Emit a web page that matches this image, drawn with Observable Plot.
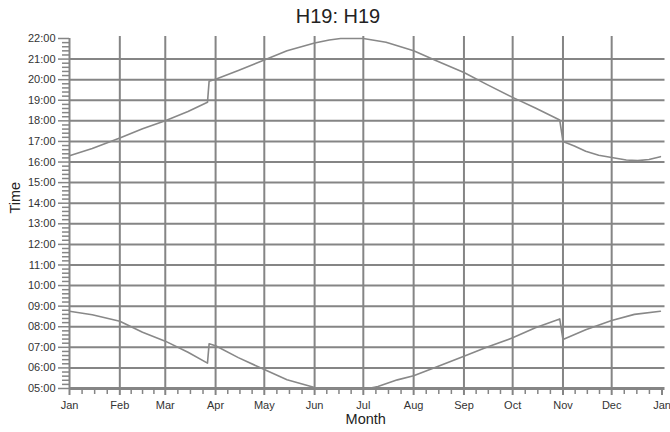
<!DOCTYPE html>
<html><head><meta charset="utf-8">
<script src="https://cdn.jsdelivr.net/npm/d3@7"></script>
<script src="https://cdn.jsdelivr.net/npm/@observablehq/plot@0.6"></script>
<style>
body{margin:0;background:#fff;font-family:"Liberation Sans",Arial,sans-serif}
#title{height:28px;width:676px;text-align:center;font-size:20px;line-height:32px;color:#222}
</style></head>
<body>
<div id="title">H19: H19</div>
<div id="chart"></div>
<script>
// ---- data ----
const monthLabels = ["Jan","Feb","Mar","Apr","May","Jun","Jul","Aug","Sep","Oct","Nov","Dec","Jan"];
const hourLabels = ["05:00","06:00","07:00","08:00","09:00","10:00","11:00","12:00","13:00","14:00","15:00","16:00","17:00","18:00","19:00","20:00","21:00","22:00"];

const sunsetDates = ["2007-01-01","2007-01-15","2007-02-01","2007-02-15","2007-03-01","2007-03-15","2007-03-27","2007-03-28","2007-04-01","2007-04-15","2007-05-01","2007-05-15","2007-06-01","2007-06-10","2007-06-17","2007-07-01","2007-07-15","2007-08-01","2007-08-15","2007-09-01","2007-09-15","2007-10-01","2007-10-15","2007-10-30","2007-11-01","2007-11-08","2007-11-15","2007-11-23","2007-12-01","2007-12-10","2007-12-17","2007-12-24","2007-12-31"];
const sunsetTimes = [16.31,16.66,17.17,17.62,18.01,18.45,18.90,19.92,20.02,20.45,20.95,21.40,21.78,21.93,22.0,22.0,21.82,21.41,20.92,20.35,19.77,19.14,18.62,18.04,17.00,16.78,16.52,16.33,16.22,16.10,16.07,16.12,16.26];

const sunriseDates = ["2007-01-01","2007-01-15","2007-02-01","2007-02-15","2007-03-01","2007-03-15","2007-03-27","2007-03-28","2007-04-01","2007-04-15","2007-05-01","2007-05-15","2007-06-01","2007-06-04","2007-07-04","2007-07-10","2007-07-22","2007-08-01","2007-08-15","2007-09-01","2007-09-15","2007-10-01","2007-10-15","2007-10-30","2007-11-01","2007-11-15","2007-12-01","2007-12-15","2007-12-31"];
const sunriseTimes = [8.75,8.58,8.27,7.73,7.30,6.76,6.23,7.17,7.08,6.50,5.92,5.43,5.05,5.0,5.0,5.10,5.42,5.62,6.05,6.57,7.00,7.46,7.95,8.38,7.38,7.85,8.30,8.60,8.75];

// ---- build tables ----
const sunset = sunsetDates.map((d, i) => ({date: new Date(d), t: sunsetTimes[i]}));
const sunrise = sunriseDates.map((d, i) => ({date: new Date(d), t: sunriseTimes[i]}));

const monthTicks = d3.utcMonths(new Date("2007-01-01"), new Date("2008-01-02"));
const monthLabelOf = new Map(monthTicks.map((d, i) => [+d, monthLabels[i]]));
const minorX = [];
for (let i = 0; i < 12; i++) {
  const a = +monthTicks[i], b = +monthTicks[i + 1];
  for (let k = 1; k < 4; k++) minorX.push(new Date(a + (b - a) * k / 4));
}
const hourTicks = hourLabels.map(s => +s.slice(0, 2));
const minorY = [];
for (let h = 5; h < 22; h++) for (let k = 1; k < 5; k++) minorY.push(h + k / 5);

const grid = "#858585";

const chart = Plot.plot({
  width: 670,
  height: 404,
  marginTop: 10,
  marginBottom: 44,
  marginLeft: 69,
  marginRight: 8.5,
  x: {type: "utc", domain: [new Date("2007-01-01"), new Date("2008-01-01")]},
  y: {domain: [5, 22]},
  style: {fontFamily: '"Liberation Sans", Arial, sans-serif', fontSize: "11px", background: "#fff", overflow: "visible"},
  marks: [
    Plot.ruleY(hourTicks.filter(h => h > 5 && h < 22), {stroke: grid, strokeWidth: 2, insetRight: -3}),
    Plot.ruleX(monthTicks.slice(1, 12), {y1: 22, y2: 5, stroke: grid, strokeWidth: 2, insetTop: -2}),
    Plot.ruleX([monthTicks[0]], {y1: 22, y2: 5, stroke: grid, strokeWidth: 2}),
    Plot.ruleY([5], {stroke: grid, strokeWidth: 3, insetRight: -3}),
    Plot.axisY(hourTicks, {tickSize: 11, tickPadding: 3, tickFormat: h => hourLabels[hourTicks.indexOf(h)], stroke: grid, strokeWidth: 1.5, fill: "#333", label: null}),
    Plot.axisY(minorY, {tickSize: 7, tickFormat: () => "", stroke: grid, strokeWidth: 1.5, label: null}),
    Plot.axisX(monthTicks, {tickSize: 7, tickPadding: 6, tickFormat: d => monthLabelOf.get(+d), stroke: grid, strokeWidth: 2, fill: "#333", label: null}),
    Plot.axisX(minorX, {tickSize: 6, tickFormat: () => "", stroke: grid, strokeWidth: 1.5, label: null}),
    Plot.line(sunset, {x: "date", y: "t", stroke: "#888", strokeWidth: 1.6}),
    Plot.line(sunrise, {x: "date", y: "t", stroke: "#888", strokeWidth: 1.6}),
    Plot.text(["Month"], {text: d => d, frameAnchor: "bottom", dy: 35, fontSize: 14.5, fill: "#222"}),
    Plot.text(["Time"], {text: d => d, frameAnchor: "left", dx: -54, rotate: -90, fontSize: 14.5, fill: "#222"})
  ]
});
document.getElementById("chart").appendChild(chart);
</script>
</body></html>
